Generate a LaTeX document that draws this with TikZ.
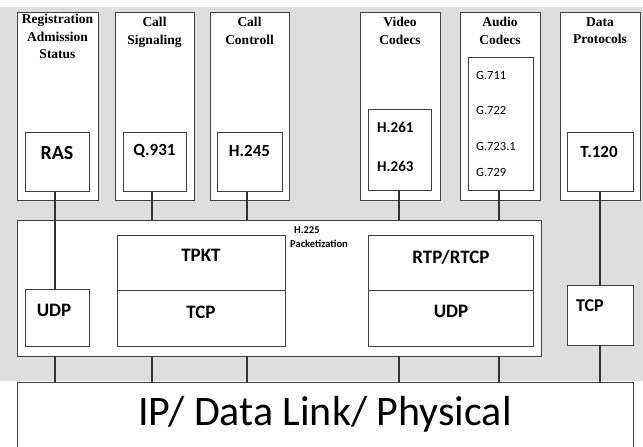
\documentclass[tikz,border=0pt]{standalone}
\usepackage{fontspec}
\setmainfont{Liberation Serif}
\newfontfamily\labelfont{Carlito}
\tikzset{
  frame/.style={draw=black!75, line width=1.2pt, fill=white, inner sep=0pt, anchor=north west},
  link/.style={draw=black!80, line width=1.8pt},
  title/.style={font=\fontsize{13.5}{17.5}\selectfont\bfseries, align=center, anchor=north, inner sep=0pt},
  proto/.style={font=\labelfont\bfseries\fontsize{17}{20}\selectfont, inner sep=0pt},
  midproto/.style={font=\labelfont\bfseries\fontsize{19}{22}\selectfont, inner sep=0pt},
  codec/.style={font=\labelfont\fontsize{12.5}{15}\selectfont, anchor=west, inner sep=0pt},
}
\begin{document}
\begin{tikzpicture}[x=1pt, y=-1pt]
\useasboundingbox (0,0) rectangle (643,447);
\fill[black!13] (0,7) rectangle (643,381);

% application layer columns
\node[frame, minimum width=81pt, minimum height=188pt] (ras) at (17,12) {};
\node[frame, minimum width=79pt, minimum height=188pt] (sig) at (115,12) {};
\node[frame, minimum width=79pt, minimum height=188pt] (ctl) at (210,12) {};
\node[frame, minimum width=80pt, minimum height=188pt] (vid) at (360,12) {};
\node[frame, minimum width=80pt, minimum height=188pt] (aud) at (460,12) {};
\node[frame, minimum width=80pt, minimum height=188pt] (dat) at (560,12) {};

\node[title] (rast) at (57.5,14) {Registration\\Admission\\Status};
\node[title] (sigt) at (154.5,17) {Call\\Signaling};
\node[title] (ctlt) at (249.5,17) {Call\\Controll};
\node[title] (vidt) at (400,17) {Video\\Codecs};
\node[title] (audt) at (500,17) {Audio\\Codecs};
\node[title] (datt) at (600,17) {Data\\Protocols};

% protocol boxes inside the columns
\node[frame, minimum width=64pt, minimum height=59pt] (rasb) at (25,132) {};
\node[frame, minimum width=63pt, minimum height=59pt] (q931) at (123,132) {};
\node[frame, minimum width=65pt, minimum height=59pt] (h245) at (217,132) {};
\node[frame, minimum width=63pt, minimum height=81pt] (hvid) at (368,109) {};
\node[frame, minimum width=65pt, minimum height=133pt] (gaud) at (468,57) {};
\node[frame, minimum width=66pt, minimum height=59pt] (t120) at (567,132) {};

\node[proto, font=\labelfont\bfseries\fontsize{20}{22}\selectfont] (rasl) at (57,153) {RAS};
\node[proto] (q931l) at (154.5,151) {Q.931};
\node[proto] (h245l) at (249.5,151) {H.245};
\node[proto] (t120l) at (599,152) {T.120};

\node[codec, font=\labelfont\bfseries\fontsize{15}{18}\selectfont] (h261) at (377,127) {H.261};
\node[codec, font=\labelfont\bfseries\fontsize{15}{18}\selectfont] (h263) at (377,166) {H.263};

\node[codec] (g711) at (476,75) {G.711};
\node[codec] (g722) at (476,110) {G.722};
\node[codec] (g7231) at (476,146) {G.723.1};
\node[codec] (g729) at (476,172) {G.729};

% H.225 packetization block
\node[frame, minimum width=524pt, minimum height=136pt] (pkt) at (17,220) {};
\node[font=\labelfont\bfseries\fontsize{10.5}{14}\selectfont, align=left, anchor=north west, inner sep=0pt] (pktl) at (290,226) {\hspace{4pt}H.225\\Packetization};

\node[frame, minimum width=64pt, minimum height=57pt] (udpa) at (25,289) {};
\node[midproto] (udpal) at (54,310) {UDP};

\node[frame, minimum width=168pt, minimum height=55pt] (tpkt) at (117,235) {};
\node[frame, minimum width=168pt, minimum height=56pt] (tcpa) at (117,290) {};
\node[midproto] (tpktl) at (201,255) {TPKT};
\node[midproto] (tcpal) at (201,312) {TCP};

\node[frame, minimum width=165pt, minimum height=55pt] (rtp) at (368,235) {};
\node[frame, minimum width=165pt, minimum height=56pt] (udpb) at (368,290) {};
\node[midproto] (rtpl) at (451,257) {RTP/RTCP};
\node[midproto] (udpbl) at (451,311) {UDP};

\node[frame, minimum width=66pt, minimum height=60pt] (tcpb) at (567,285) {};
\node[midproto, font=\labelfont\bfseries\fontsize{18}{20}\selectfont] (tcpbl) at (590,306) {TCP};

% network layer
\node[frame, minimum width=616pt, minimum height=80pt] (net) at (17,382) {};
\node[font=\labelfont\fontsize{42}{46}\selectfont, inner sep=0pt] (netl) at (325,414) {IP/ Data Link/ Physical};

% vertical connectors between layers
\draw[link] (rasb.south -| 55,0) -- (udpa.north -| 55,0);
\draw[link] (q931.south -| 152,0) -- (pkt.north -| 152,0);
\draw[link] (h245.south -| 247,0) -- (pkt.north -| 247,0);
\draw[link] (hvid.south -| 399,0) -- (pkt.north -| 399,0);
\draw[link] (gaud.south -| 499,0) -- (pkt.north -| 499,0);
\draw[link] (t120.south -| 600,0) -- (tcpb.north -| 600,0);

\draw[link] (pkt.south -| 55,0) -- (net.north -| 55,0);
\draw[link] (pkt.south -| 152,0) -- (net.north -| 152,0);
\draw[link] (pkt.south -| 247,0) -- (net.north -| 247,0);
\draw[link] (pkt.south -| 399,0) -- (net.north -| 399,0);
\draw[link] (pkt.south -| 499,0) -- (net.north -| 499,0);
\draw[link] (tcpb.south -| 600,0) -- (net.north -| 600,0);
\end{tikzpicture}
\end{document}
